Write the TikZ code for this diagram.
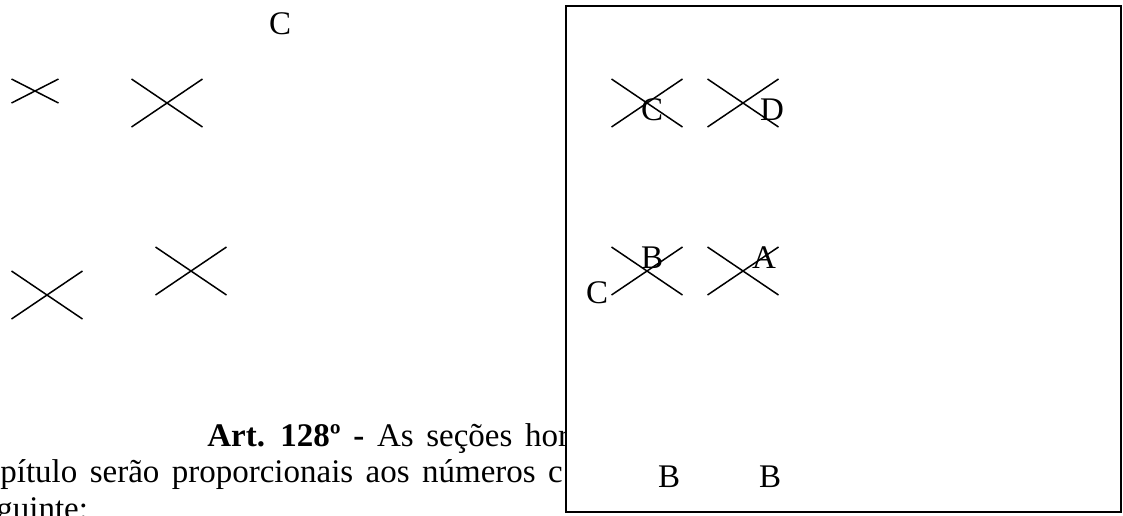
\documentclass[tikz,border=0pt]{standalone}
\usepackage{fontspec}
\setmainfont{Liberation Serif}
\usepackage{xcolor}
\definecolor{inkBlack}{HTML}{000000}
\tikzset{
  letra/.style={inner sep=0pt, font=\fontsize{16.5}{19}\selectfont},
  linha/.style={inner sep=0pt, anchor=base west, font=\fontsize{16.5}{19}\selectfont},
  risco/.style={draw=inkBlack, line width=0.75pt}
}

\begin{document}
\begin{tikzpicture}[x=0.5pt, y=-0.5pt]
  \useasboundingbox (0,0) rectangle (1123,515);
  \clip (0,0) rectangle (1123,515);
  % text of the page, cut by the box
  \begin{scope}
    \clip (0,0) rectangle (565,515);
    \node[linha] (L1) at (207,446) {\spaceskip=6.3pt\textbf{Art. 128º -} As seções hori};
    \node[linha] (L2) at (0,482) {\spaceskip=6.2pt pítulo serão proporcionais aos números c};
    \node[linha] (L3) at (-4,519) {guinte:};
  \end{scope}
  % crosses on the left
  \foreach \cx/\cy/\hw/\hh in {35/91/23.5/12, 167/103/35.5/24, 47/295/35.5/24, 191/271/35.5/24}
    \draw[risco] (\cx-\hw,\cy-\hh) -- (\cx+\hw,\cy+\hh) (\cx-\hw,\cy+\hh) -- (\cx+\hw,\cy-\hh);
  \node[letra] (Ctop) at (280,24) {C};
  % the box
  \filldraw[fill=white, draw=inkBlack, line width=1pt] (566,6) rectangle (1121,512);
  \foreach \cx/\cy in {647/103, 743/103, 647/271, 743/271}
    \draw[risco] (\cx-35.5,\cy-24) -- (\cx+35.5,\cy+24) (\cx-35.5,\cy+24) -- (\cx+35.5,\cy-24);
  \node[letra] (C1) at (652,110) {C};
  \node[letra] (D1) at (772,110) {D};
  \node[letra] (B1) at (652,258) {B};
  \node[letra] (A1) at (764,258) {A};
  \node[letra] (C2) at (597,293) {C};
  \node[letra] (B2) at (669,477) {B};
  \node[letra] (B3) at (770,477) {B};
\end{tikzpicture}
\end{document}
